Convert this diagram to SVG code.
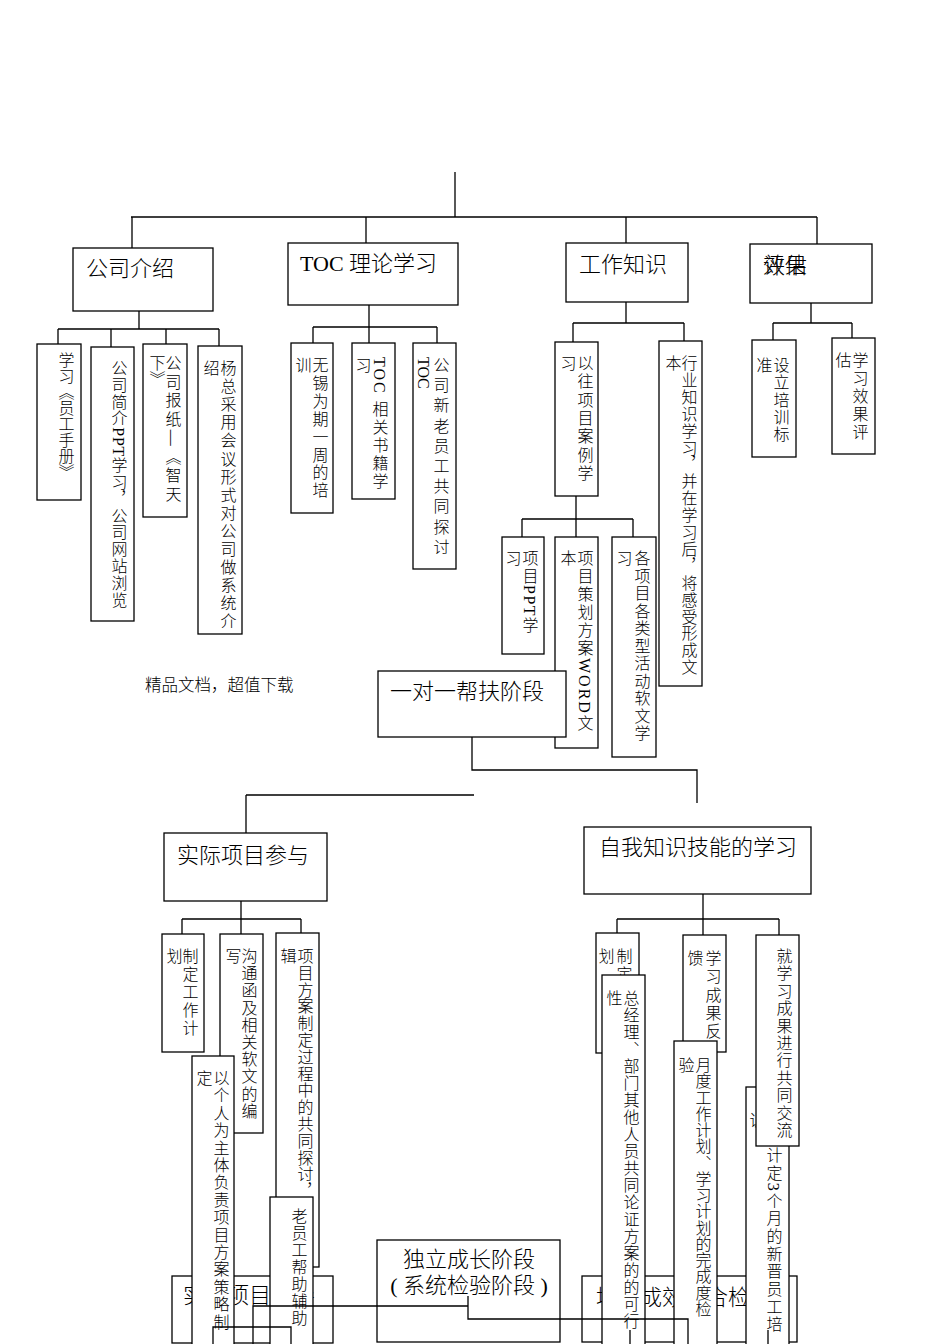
<svg xmlns="http://www.w3.org/2000/svg" width="950" height="1344" viewBox="0 0 950 1344">
<style>
.b{fill:#fff;stroke:#000;stroke-width:1.3}
.c{fill:none;stroke:#000;stroke-width:1.3}
.t{font-family:"Liberation Serif","Noto Sans CJK SC",serif;font-size:22px;font-weight:300;fill:#000}
.s{font-family:"Liberation Serif","Noto Sans CJK SC",serif;font-size:16px;font-weight:300;fill:#000}
.v{font-family:"Liberation Serif","Noto Sans CJK SC",serif;font-size:16px;font-weight:300;fill:#000;writing-mode:vertical-rl}
</style>
<rect width="950" height="1344" fill="#fff"/>

<g id="n-gsjs"><rect class="b" x="73" y="248" width="140" height="63"/><text class="t" x="86" y="276">公司介绍</text></g>
<g id="n-toc"><rect class="b" x="288" y="243" width="170" height="62"/><text class="t" x="300" y="271">TOC 理论学习</text></g>
<g id="n-gzzs"><rect class="b" x="566" y="243" width="122" height="59"/><text class="t" x="579" y="272">工作知识</text></g>
<g id="n-pxpg"><rect class="b" x="750" y="244" width="122" height="59"/><text class="t" x="763" y="273">效果</text><text class="t" x="763" y="273">评估</text></g>

<g id="n-a1"><rect class="b" x="37" y="344" width="44" height="156"/><text class="v" x="65" y="352">学习《员工手册》</text></g>
<g id="n-a2"><rect class="b" x="91" y="347" width="43" height="274"/><text class="v" x="118" y="360" style="letter-spacing:0.8px">公司简介PPT学习，公司网站浏览</text></g>
<g id="n-a3"><rect class="b" x="143" y="344" width="44" height="173"/><text class="v" x="172" y="355" style="letter-spacing:2.7px">公司报纸—《智天</text><text class="v" x="156" y="355">下》</text></g>
<g id="n-a4"><rect class="b" x="198" y="346" width="44" height="288"/><text class="v" x="227" y="360" style="letter-spacing:2.1px">杨总采用会议形式对公司做系统介</text><text class="v" x="210" y="360">绍</text></g>

<g id="n-b1"><rect class="b" x="291" y="343" width="42" height="170"/><text class="v" x="319" y="357" style="letter-spacing:1.9px">无锡为期一周的培</text><text class="v" x="302" y="357">训</text></g>
<g id="n-b2"><rect class="b" x="352" y="343" width="43" height="156"/><text class="v" x="379" y="357" style="letter-spacing:2px">TOC 相关书籍学</text><text class="v" x="362" y="357">习</text></g>
<g id="n-b3"><rect class="b" x="413" y="343" width="43" height="226"/><text class="v" x="440" y="357" style="letter-spacing:4.2px">公司新老员工共同探讨</text><text class="v" x="423" y="357">TOC</text></g>

<g id="n-c2"><rect class="b" x="659" y="341" width="43" height="345"/><text class="v" x="688" y="355" style="letter-spacing:0.9px">行业知识学习，并在学习后，将感受形成文</text><text class="v" x="672" y="355">本</text></g>
<g id="n-c1"><rect class="b" x="555" y="342" width="43" height="154"/><text class="v" x="584" y="355" style="letter-spacing:2.3px">以往项目案例学</text><text class="v" x="567" y="355">习</text></g>
<g id="n-c1a"><rect class="b" x="502" y="537" width="42" height="117"/><text class="v" x="529" y="550" style="letter-spacing:1.5px">项目PPT学</text><text class="v" x="512" y="550">习</text></g>
<g id="n-c1b"><rect class="b" x="555" y="537" width="43" height="211"/><text class="v" x="584" y="550" style="letter-spacing:2px">项目策划方案WORD文</text><text class="v" x="567" y="550">本</text></g>
<g id="n-c1c"><rect class="b" x="612" y="537" width="44" height="220"/><text class="v" x="641" y="550" style="letter-spacing:1.5px">各项目各类型活动软文学</text><text class="v" x="623" y="550">习</text></g>

<g id="n-d1"><rect class="b" x="752" y="340" width="44" height="117"/><text class="v" x="780" y="357" style="letter-spacing:1.3px">设立培训标</text><text class="v" x="763" y="357">准</text></g>
<g id="n-d2"><rect class="b" x="832" y="338" width="43" height="116"/><text class="v" x="859" y="352" style="letter-spacing:2px">学习效果评</text><text class="v" x="842" y="352">估</text></g>

<g id="n-note"><text class="s" x="145" y="691" style="font-size:16.5px">精品文档，超值下载</text></g>

<g id="n-ydy"><rect class="b" x="378" y="671" width="188" height="66"/><text class="t" x="390" y="699">一对一帮扶阶段</text></g>

<g id="n-sjxm"><rect class="b" x="164" y="833" width="163" height="68"/><text class="t" x="177" y="863">实际项目参与</text></g>
<g id="n-zwzs"><rect class="b" x="584" y="827" width="227" height="67"/><text class="t" x="599" y="855">自我知识技能的学习</text></g>

<g id="n-g1"><rect class="b" x="172" y="1276" width="161" height="67"/><text class="t" x="183" y="1303">实际项目主导</text></g>
<g id="n-g2"><rect class="b" x="377" y="1240" width="183" height="102"/><text class="t" x="469" y="1267" text-anchor="middle">独立成长阶段</text><text class="t" x="469" y="1293" text-anchor="middle">( 系统检验阶段 )</text></g>
<g id="n-g3"><rect class="b" x="582" y="1276" width="215" height="66"/><text class="t" x="596" y="1305">培训成效综合检验</text></g>

<g id="n-e1"><rect class="b" x="162" y="934" width="42" height="118"/><text class="v" x="189" y="948" style="letter-spacing:2px">制定工作计</text><text class="v" x="173" y="948">划</text></g>
<g id="n-e2"><rect class="b" x="220" y="934" width="43" height="199"/><text class="v" x="248" y="948" style="letter-spacing:1.2px">沟通函及相关软文的编</text><text class="v" x="232" y="948">写</text></g>
<g id="n-e3"><rect class="b" x="276" y="933" width="43" height="334"/><text class="v" x="304" y="948" style="letter-spacing:0.8px">项目方案制定过程中的共同探讨，</text><text class="v" x="287" y="948">辑</text></g>
<g id="n-e4"><rect class="b" x="192" y="1056" width="42" height="290"/><text class="v" x="220" y="1070" style="letter-spacing:1.4px">以个人为主体负责项目方案策略制</text><text class="v" x="203" y="1070">定</text></g>
<g id="n-e5"><rect class="b" x="270" y="1197" width="43" height="149"/><text class="v" x="298" y="1208" style="letter-spacing:1px">老员工帮助辅助</text></g>

<g id="n-f1"><rect class="b" x="596" y="933" width="43" height="120"/><text class="v" x="623" y="948" style="letter-spacing:2px">制定工作计</text><text class="v" x="605" y="948">划</text></g>
<g id="n-f2"><rect class="b" x="602" y="975" width="43" height="371"/><text class="v" x="630" y="990" style="letter-spacing:1px">总经理、部门其他人员共同论证方案的的可行</text><text class="v" x="613" y="990">性</text></g>
<g id="n-f3"><rect class="b" x="683" y="935" width="43" height="117"/><text class="v" x="712" y="950" style="letter-spacing:2.3px">学习成果反</text><text class="v" x="694" y="950">馈</text></g>
<g id="n-f4"><rect class="b" x="674" y="1041" width="43" height="305"/><text class="v" x="702" y="1057" style="letter-spacing:0.25px">月度工作计划、学习计划的完成度检</text><text class="v" x="685" y="1057">验</text></g>
<g id="n-f6"><rect class="b" x="746" y="1087" width="43" height="259"/><text class="v" x="773" y="1112" style="letter-spacing:1.7px">为其计定3个月的新晋员工培</text><text class="v" x="756" y="1112">训</text></g>
<g id="n-f5"><rect class="b" x="756" y="935" width="43" height="211"/><text class="v" x="783" y="948" style="letter-spacing:1.4px">就学习成果进行共同交流</text></g>

<g id="connectors">
<path class="c" d="M455 172V217M131 217H817M132 217V248M366 217V243M626 217V243M817 217V244"/>
<path class="c" d="M139 311V329M58 329H219M58 329V344M111 329V347M166 329V344M219 329V346"/>
<path class="c" d="M369 305V327M313 327H437M313 327V343M369 327V343M437 327V343"/>
<path class="c" d="M626 302V323M573 323H684M573 323V342M684 323V341"/>
<path class="c" d="M576 496V519M522 519H633M522 519V537M576 519V537M633 519V537"/>
<path class="c" d="M811 303V323M773 323H852M773 323V340M852 323V338"/>
<path class="c" d="M472 737V770H697V803M246 795H474M246 795V833"/>
<path class="c" d="M241 901V919M182 919H301M182 919V934M241 919V934M301 919V933"/>
<path class="c" d="M703 894V919M617 919H779M617 919V933M703 919V935M779 919V935"/>
<path class="c" d="M253 1344V1306H468M468 1296V1319H688V1344M213 1344V1327H291V1344M630 1344V1330M768 1344V1330"/>
</g>
</svg>
